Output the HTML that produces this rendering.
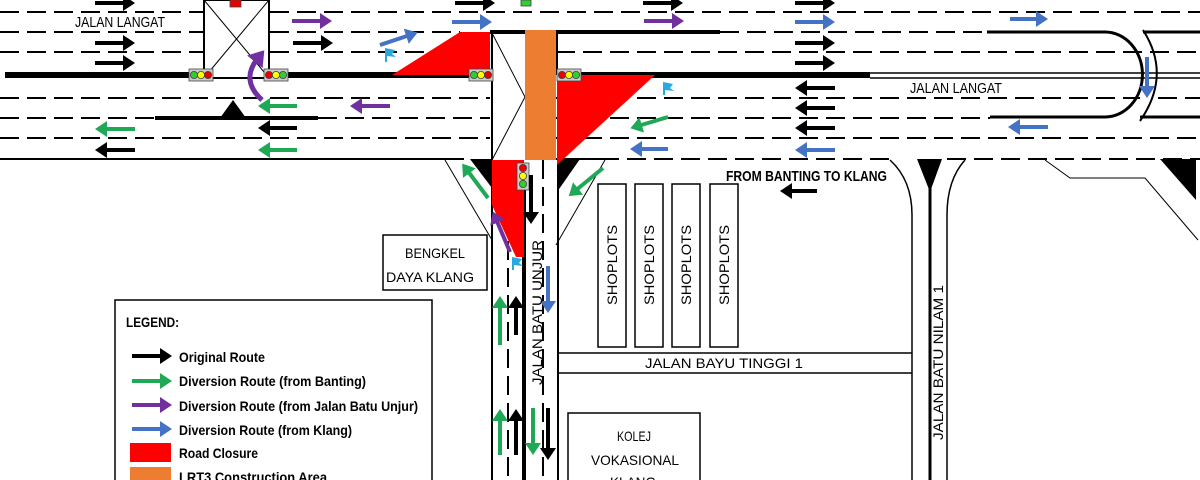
<!DOCTYPE html>
<html><head><meta charset="utf-8"><style>
html,body{margin:0;padding:0;background:#fff;}
svg{display:block;}
text{font-family:"Liberation Sans",sans-serif;}
</style></head><body>
<svg width="1200" height="480" viewBox="0 0 1200 480" xmlns="http://www.w3.org/2000/svg">
<defs>
<marker id="hk" markerWidth="4" markerHeight="4" refX="1" refY="2" orient="auto" markerUnits="strokeWidth"><path d="M0,0L3,2L0,4z" fill="#000"/></marker>
<marker id="hg" markerWidth="4" markerHeight="4" refX="1" refY="2" orient="auto" markerUnits="strokeWidth"><path d="M0,0L3,2L0,4z" fill="#1fa855"/></marker>
<marker id="hp" markerWidth="4" markerHeight="4" refX="1" refY="2" orient="auto" markerUnits="strokeWidth"><path d="M0,0L3,2L0,4z" fill="#7030a0"/></marker>
<marker id="hb" markerWidth="4" markerHeight="4" refX="1" refY="2" orient="auto" markerUnits="strokeWidth"><path d="M0,0L3,2L0,4z" fill="#4472c4"/></marker>
</defs>
<rect width="1200" height="480" fill="#fff"/>

<g stroke="#000" stroke-width="2" stroke-dasharray="19,8" fill="none">
<line x1="0" y1="12" x2="204" y2="12"/><line x1="270" y1="12" x2="1200" y2="12"/>
<line x1="0" y1="32" x2="204" y2="32"/><line x1="270" y1="32" x2="460" y2="32"/><line x1="720" y1="32" x2="987" y2="32"/>
<line x1="0" y1="52" x2="204" y2="52"/><line x1="270" y1="52" x2="490" y2="52"/><line x1="556" y1="52" x2="1200" y2="52"/>
<line x1="0" y1="98" x2="490" y2="98"/><line x1="556" y1="98" x2="1140" y2="98"/><line x1="1158" y1="98" x2="1200" y2="98"/>
<line x1="0" y1="118" x2="155" y2="118"/><line x1="318" y1="118" x2="490" y2="118"/><line x1="556" y1="118" x2="990" y2="118"/>
<line x1="0" y1="138" x2="490" y2="138"/><line x1="556" y1="138" x2="1200" y2="138"/>
<line x1="600" y1="159" x2="890" y2="159"/><line x1="947" y1="159" x2="1200" y2="159"/>
<line x1="445" y1="159" x2="470" y2="159"/>
<line x1="508" y1="160" x2="508" y2="480"/><line x1="543" y1="160" x2="543" y2="480"/>
</g>
<g stroke="#000" fill="none">
<line x1="5" y1="75" x2="190" y2="75" stroke-width="6"/>
<line x1="287" y1="75" x2="490" y2="75" stroke-width="6"/>
<line x1="580" y1="75" x2="870" y2="75" stroke-width="6"/>
<line x1="870" y1="73" x2="1200" y2="73" stroke-width="1.5"/>
<line x1="870" y1="78" x2="1200" y2="78" stroke-width="1.5"/>
<line x1="490" y1="32" x2="720" y2="32" stroke-width="4"/>
<line x1="155" y1="118" x2="318" y2="118" stroke-width="4"/>
<path d="M987,32 H1105 A37,42 0 0 1 1105,117 H990" stroke-width="3"/>
<path d="M1143,30 Q1172,75 1140,121" stroke-width="2"/>
<line x1="1143" y1="32" x2="1200" y2="32" stroke-width="3"/>
<line x1="1140" y1="117" x2="1200" y2="117" stroke-width="3"/>
<line x1="0" y1="159" x2="445" y2="159" stroke-width="2"/>
<line x1="556" y1="159" x2="600" y2="159" stroke-width="2"/>
<rect x="204" y="0" width="65" height="78" stroke-width="2"/>
<line x1="204" y1="0" x2="269" y2="78" stroke-width="1"/><line x1="269" y1="0" x2="204" y2="78" stroke-width="1"/>
<line x1="492" y1="32" x2="492" y2="480" stroke-width="2"/>
<line x1="557" y1="30" x2="557" y2="75" stroke-width="2"/>
<line x1="558" y1="160" x2="558" y2="480" stroke-width="2"/>
<path d="M492,33 L525,97 L492,160" stroke-width="1"/>
<line x1="524" y1="190" x2="524" y2="480" stroke-width="4"/>
<line x1="445" y1="160" x2="492" y2="240" stroke-width="1"/>
<line x1="605" y1="160" x2="556" y2="245" stroke-width="1"/>
<line x1="559" y1="353" x2="912" y2="353" stroke-width="1.5"/>
<line x1="559" y1="373" x2="912" y2="373" stroke-width="1.5"/>
<path d="M890,160 Q912,180 912,215 V480" stroke-width="1.5"/>
<path d="M965,160 Q947,180 947,215 V480" stroke-width="1.5"/>
<line x1="930" y1="185" x2="930" y2="480" stroke-width="3"/>
<path d="M1045,160 L1070,178 L1145,178 L1198,240" stroke-width="1"/>
</g>
<g fill="#000">
<path d="M220,118 L233,100 L246,118z"/>
<path d="M470,159 L492,159 L492,188z"/>
<path d="M557,159 L580,159 L557,192z"/>
<path d="M917,159 L942,159 L930,192z"/>
<path d="M1160,159 L1196,159 L1196,200z"/>
</g>
<path d="M392,75 L460,32 L490,32 L490,75z" fill="#ff0000"/>
<path d="M557,75 L655,75 L557,165z" fill="#ff0000"/>
<path d="M492,160 L524,160 L524,257 L516,257 L492,205z" fill="#ff0000"/>
<rect x="525" y="30" width="31" height="130" fill="#ed7d31"/>

<g fill="none" stroke="#000" stroke-width="1.5">
<rect x="383" y="235" width="104" height="55"/>
<rect x="115" y="300" width="317" height="185"/>
<rect x="598" y="184" width="28" height="163"/>
<rect x="635" y="184" width="28" height="163"/>
<rect x="672" y="184" width="28" height="163"/>
<rect x="710" y="184" width="28" height="163"/>
<rect x="568" y="413" width="132" height="75"/>
</g>

<g stroke="#444" stroke-width="0.8">
<rect x="189" y="69" width="24" height="12" fill="#ccc"/>
<circle cx="194" cy="75" r="3.6" fill="#3c3"/><circle cx="201" cy="75" r="3.6" fill="#ff0"/><circle cx="208" cy="75" r="3.6" fill="#e00"/>
<rect x="264" y="69" width="24" height="12" fill="#ccc"/>
<circle cx="269" cy="75" r="3.6" fill="#e00"/><circle cx="276" cy="75" r="3.6" fill="#ff0"/><circle cx="283" cy="75" r="3.6" fill="#3c3"/>
<rect x="469" y="69" width="24" height="12" fill="#ccc"/>
<circle cx="474" cy="75" r="3.6" fill="#3c3"/><circle cx="481" cy="75" r="3.6" fill="#ff0"/><circle cx="488" cy="75" r="3.6" fill="#e00"/>
<rect x="557" y="69" width="24" height="12" fill="#ccc"/>
<circle cx="562" cy="75" r="3.6" fill="#e00"/><circle cx="569" cy="75" r="3.6" fill="#ff0"/><circle cx="576" cy="75" r="3.6" fill="#3c3"/>
<rect x="517" y="163" width="12" height="27" fill="#ccc"/>
<circle cx="523" cy="168" r="3.6" fill="#e00"/><circle cx="523" cy="176" r="3.6" fill="#ff0"/><circle cx="523" cy="184" r="3.6" fill="#3c3"/>
<rect x="230" y="0" width="11" height="7" fill="#e00"/>
<rect x="521" y="0" width="10" height="6" fill="#3c3"/>
</g>
<g fill="#29a9e0">
<path d="M385,62 V48 L395,50 L392,54 L396,57 L387,56 V62z"/>
<path d="M663,95 V82 L673,84 L670,88 L674,91 L665,90 V95z"/>
<path d="M512,270 V257 L522,259 L519,263 L523,266 L514,265 V270z"/>
</g>

<g stroke-width="4" fill="none">
<g stroke="#000" marker-end="url(#hk)">
<line x1="95" y1="3" x2="127" y2="3"/><line x1="455" y1="3" x2="487" y2="3"/><line x1="643" y1="3" x2="675" y2="3"/><line x1="795" y1="3" x2="827" y2="3"/>
<line x1="95" y1="43" x2="127" y2="43"/><line x1="95" y1="63" x2="127" y2="63"/>
<line x1="293" y1="43" x2="325" y2="43"/>
<line x1="795" y1="43" x2="827" y2="43"/><line x1="795" y1="63" x2="827" y2="63"/>
<line x1="835" y1="88" x2="803" y2="88"/><line x1="835" y1="108" x2="803" y2="108"/><line x1="835" y1="128" x2="803" y2="128"/>
<line x1="297" y1="128" x2="266" y2="128"/><line x1="135" y1="150" x2="103" y2="150"/>
<line x1="817" y1="191" x2="788" y2="191"/>
<line x1="531" y1="175" x2="531" y2="216"/>
<line x1="516" y1="335" x2="516" y2="304"/><line x1="516" y1="455" x2="516" y2="417"/>
<line x1="548" y1="408" x2="548" y2="452"/>
</g>
<g stroke="#1fa855" marker-end="url(#hg)">
<line x1="297" y1="106" x2="266" y2="106"/><line x1="297" y1="150" x2="266" y2="150"/>
<line x1="135" y1="129" x2="103" y2="129"/>
<line x1="668" y1="117" x2="638" y2="126"/>
<line x1="488" y1="198" x2="467" y2="170"/>
<line x1="603" y1="168" x2="575" y2="191"/>
<line x1="500" y1="345" x2="500" y2="304"/><line x1="500" y1="455" x2="500" y2="417"/>
<line x1="533" y1="408" x2="533" y2="447"/>
</g>
<g stroke="#7030a0" marker-end="url(#hp)">
<line x1="292" y1="21" x2="324" y2="21"/><line x1="644" y1="21" x2="676" y2="21"/>
<line x1="390" y1="106" x2="358" y2="106"/>
<line x1="510" y1="252" x2="496" y2="219"/>
<path d="M262,100 Q240,80 258,58" stroke-width="5"/>
</g>
<g stroke="#4472c4" marker-end="url(#hb)">
<line x1="452" y1="22" x2="484" y2="22"/><line x1="795" y1="22" x2="827" y2="22"/><line x1="1010" y1="19" x2="1040" y2="19"/>
<line x1="380" y1="45" x2="410" y2="35"/>
<line x1="668" y1="149" x2="638" y2="149"/><line x1="835" y1="150" x2="803" y2="150"/>
<line x1="1048" y1="127" x2="1016" y2="127"/>
<line x1="1147" y1="57" x2="1147" y2="90"/>
<line x1="548" y1="266" x2="548" y2="305"/>
</g>
<line x1="132" y1="356" x2="164" y2="356" stroke="#000" marker-end="url(#hk)"/>
<line x1="132" y1="381" x2="164" y2="381" stroke="#1fa855" marker-end="url(#hg)"/>
<line x1="132" y1="405" x2="164" y2="405" stroke="#7030a0" marker-end="url(#hp)"/>
<line x1="132" y1="429" x2="164" y2="429" stroke="#4472c4" marker-end="url(#hb)"/>
</g>
<rect x="130" y="443" width="41" height="19" fill="#ff0000"/>
<rect x="130" y="467" width="41" height="19" fill="#ed7d31"/>

<g fill="#000" font-size="15">
<text x="75" y="27" textLength="90" lengthAdjust="spacingAndGlyphs">JALAN LANGAT</text>
<text x="910" y="93" textLength="92" lengthAdjust="spacingAndGlyphs">JALAN LANGAT</text>
<text x="726" y="181" font-weight="bold" textLength="161" lengthAdjust="spacingAndGlyphs">FROM BANTING TO KLANG</text>
<text x="405" y="258" font-size="14" textLength="60" lengthAdjust="spacingAndGlyphs">BENGKEL</text>
<text x="386" y="282" font-size="14" textLength="88" lengthAdjust="spacingAndGlyphs">DAYA KLANG</text>
<text x="645" y="368" font-size="14" textLength="158" lengthAdjust="spacingAndGlyphs">JALAN BAYU TINGGI 1</text>
<text x="617" y="441" font-size="14" textLength="34" lengthAdjust="spacingAndGlyphs">KOLEJ</text>
<text x="591" y="465" font-size="14" textLength="88" lengthAdjust="spacingAndGlyphs">VOKASIONAL</text>
<text x="610" y="487" font-size="14" textLength="46" lengthAdjust="spacingAndGlyphs">KLANG</text>
<text transform="translate(542,385) rotate(-90)" font-size="14" textLength="145" lengthAdjust="spacingAndGlyphs">JALAN BATU UNJUR</text>
<text transform="translate(943,440) rotate(-90)" font-size="14" textLength="155" lengthAdjust="spacingAndGlyphs">JALAN BATU NILAM 1</text>
<text transform="translate(617,305) rotate(-90)" font-size="14" textLength="80" lengthAdjust="spacingAndGlyphs">SHOPLOTS</text>
<text transform="translate(654,305) rotate(-90)" font-size="14" textLength="80" lengthAdjust="spacingAndGlyphs">SHOPLOTS</text>
<text transform="translate(691,305) rotate(-90)" font-size="14" textLength="80" lengthAdjust="spacingAndGlyphs">SHOPLOTS</text>
<text transform="translate(729,305) rotate(-90)" font-size="14" textLength="80" lengthAdjust="spacingAndGlyphs">SHOPLOTS</text>
<g font-weight="bold" font-size="14">
<text x="126" y="327" textLength="53" lengthAdjust="spacingAndGlyphs">LEGEND:</text>
<text x="179" y="362" textLength="86" lengthAdjust="spacingAndGlyphs">Original Route</text>
<text x="179" y="386" textLength="187" lengthAdjust="spacingAndGlyphs">Diversion Route (from Banting)</text>
<text x="179" y="411" textLength="239" lengthAdjust="spacingAndGlyphs">Diversion Route (from Jalan Batu Unjur)</text>
<text x="179" y="435" textLength="173" lengthAdjust="spacingAndGlyphs">Diversion Route (from Klang)</text>
<text x="179" y="458" textLength="79" lengthAdjust="spacingAndGlyphs">Road Closure</text>
<text x="179" y="482" textLength="148" lengthAdjust="spacingAndGlyphs">LRT3 Construction Area</text>
</g>
</g>
</svg>
</body></html>
